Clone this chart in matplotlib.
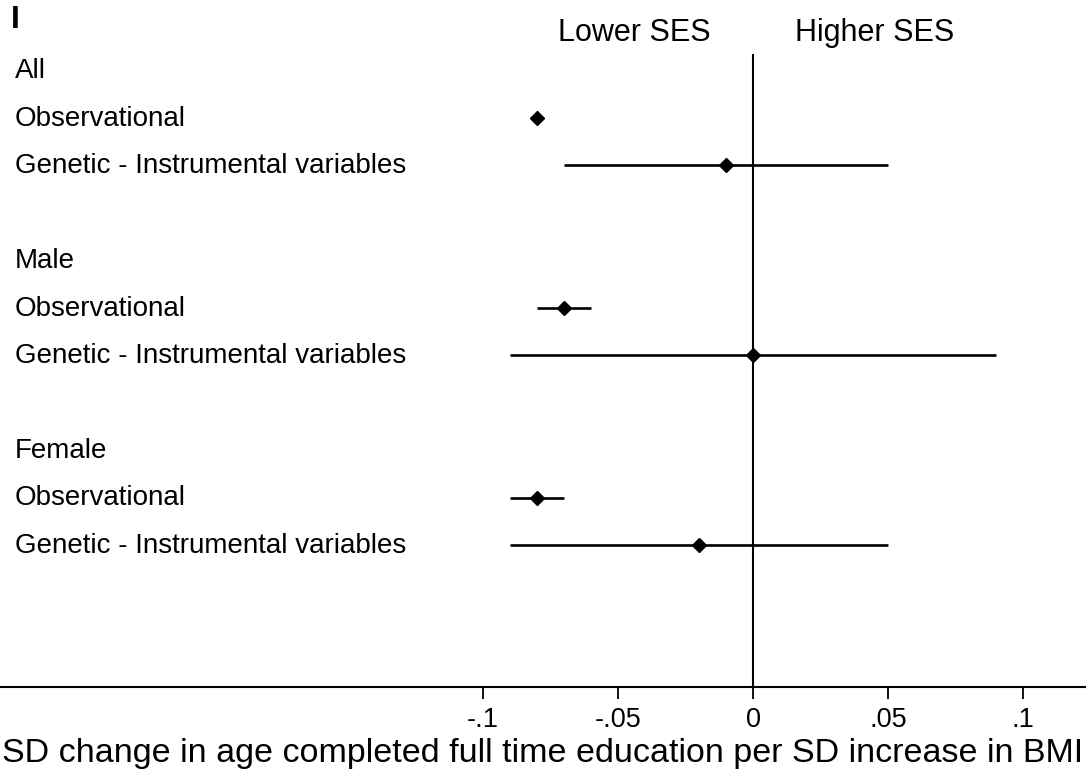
import matplotlib
matplotlib.use('Agg')
import matplotlib.pyplot as plt
import matplotlib.transforms as mtransforms
import numpy as np

# Forest plot: effect of BMI on age completed full time education
GROUPS = ['All', 'Male', 'Female']
METHODS = ['Observational', 'Genetic - Instrumental variables']

# point estimates and 95% CI, one value per group
OBS_EST = [-0.08, -0.07, -0.08]
OBS_LO = [-0.08, -0.08, -0.09]
OBS_HI = [-0.08, -0.06, -0.07]

GEN_EST = [-0.01, 0.00, -0.02]
GEN_LO = [-0.07, -0.09, -0.09]
GEN_HI = [0.05, 0.09, 0.05]

XTICKS = [-0.1, -0.05, 0, 0.05, 0.1]
XTICK_LABELS = ['-.1', '-.05', '0', '.05', '.1']
X_LABEL = 'SD change in age completed full time education per SD increase in BMI'

plt.rcParams['font.family'] = ['Liberation Sans', 'DejaVu Sans']

W, H = 1090, 778
fig = plt.figure(figsize=(W / 100, H / 100), dpi=100)
ax = fig.add_axes([0, 1 - 687 / H, 1085 / W, 633 / H])

# row layout: group header, observational, genetic, blank
rows = []
for g in range(len(GROUPS)):
    base = g * 4
    rows.append((base, GROUPS[g]))
    rows.append((base + 1, METHODS[0]))
    rows.append((base + 2, METHODS[1]))

for y, label in rows:
    ax.text(15 / 1085, y + 0.02, label, transform=ax.get_yaxis_transform(),
            fontsize=20, va='center', ha='left')

obs_y = np.arange(len(GROUPS)) * 4 + 1
gen_y = np.arange(len(GROUPS)) * 4 + 2

for ys, est, lo, hi in [(obs_y, OBS_EST, OBS_LO, OBS_HI),
                        (gen_y, GEN_EST, GEN_LO, GEN_HI)]:
    est = np.array(est)
    lo = np.array(lo)
    hi = np.array(hi)
    ax.hlines(ys, lo, hi, colors='black', linewidth=1.9, zorder=2)
    ax.plot(est, ys, linestyle='none', marker='D', markersize=7.5,
            color='black', zorder=3)

ax.axvline(0, color='black', linewidth=1.5, zorder=1)

ax.set_xlim(-753 / 2700, 332 / 2700)
ax.set_ylim(12.99, -0.34)

for s in ['top', 'right', 'left']:
    ax.spines[s].set_visible(False)
ax.spines['bottom'].set_linewidth(1.5)
ax.set_yticks([])
ax.set_xticks(XTICKS)
ax.set_xticklabels(XTICK_LABELS, fontsize=19.5)
ax.tick_params(axis='x', direction='out', length=8.6, width=1.3, pad=5.5)
ax.set_xlabel(X_LABEL, fontsize=24.5, labelpad=4)

top = mtransforms.blended_transform_factory(ax.transData, fig.transFigure)
ax.text(-0.044, 1 - 33 / H, 'Lower SES', transform=top,
        fontsize=22, ha='center', va='center')
ax.text(0.045, 1 - 33 / H, 'Higher SES', transform=top,
        fontsize=22, ha='center', va='center')

fig.text(11 / W, 1 - 20 / H, 'I', fontsize=23, fontweight='bold', ha='left', va='center')

fig.savefig('out.png', dpi=100)
